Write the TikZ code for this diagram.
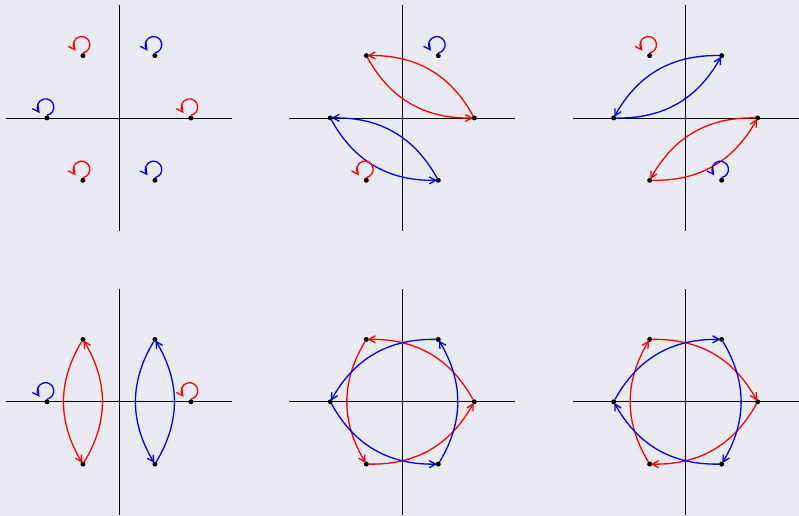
\documentclass[tikz,border=0pt]{standalone}
\usepackage{xcolor}
\usepackage{tikz}
\usetikzlibrary{arrows.meta}
\definecolor{panelbg}{HTML}{EAEAF2}

\begin{document}
\begin{tikzpicture}[
  x=1in, y=1in,
  axis/.style = {black, line width=0.75pt},
  dot/.style  = {circle, fill=black, inner sep=0pt, minimum size=5pt},
  edg/.style  = {line width=1.3pt, shorten >=-1.5pt,
                 -{Straight Barb[length=6.5pt,width=7pt]}},
  redg/.style = {edg, red},
  bedg/.style = {edg, blue},
]

%% ── Background ──────────────────────────────────────────────────────────────
\fill[panelbg] (-1.653,1.639) rectangle (9.444,-5.528);

%% ── Axes and hexagon vertices per panel ─────────────────────────────────────
\foreach \p/\cx/\cy in {a/0/0, b/3.9375/0, c/7.875/0,
                        d/0/-3.944, e/3.9375/-3.944, f/7.875/-3.944}{
  \draw[axis] (\cx-1.57,\cy) -- (\cx+1.57,\cy);
  \draw[axis] (\cx,\cy+1.57) -- (\cx,\cy-1.57);
  \foreach \k in {0,...,5}
    \node[dot] (\p\k) at ({\cx+cos(60*\k)},{\cy+sin(60*\k)}) {};
}

%% ── Panel a: only self-loops ────────────────────────────────────────────────
\draw[redg] (a0.north) arc[start angle=-80, end angle=215, radius=0.115];
\draw[bedg] (a1.north) arc[start angle=-80, end angle=215, radius=0.115];
\draw[redg] (a2.north) arc[start angle=-80, end angle=215, radius=0.115];
\draw[bedg] (a3.north) arc[start angle=-80, end angle=215, radius=0.115];
\draw[redg] (a4.north) arc[start angle=-80, end angle=215, radius=0.115];
\draw[bedg] (a5.north) arc[start angle=-80, end angle=215, radius=0.115];

%% ── Panel b ─────────────────────────────────────────────────────────────────
\draw[redg] (b2) to[bend right=31] (b0);
\draw[redg] (b0) to[bend right=31] (b2);
\draw[bedg] (b3) to[bend right=31] (b5);
\draw[bedg] (b5) to[bend right=31] (b3);
\draw[bedg] (b1.north) arc[start angle=-80, end angle=215, radius=0.115];
\draw[redg] (b4.north) arc[start angle=-80, end angle=215, radius=0.115];

%% ── Panel c ─────────────────────────────────────────────────────────────────
\draw[bedg] (c3) to[bend right=31] (c1);
\draw[bedg] (c1) to[bend right=31] (c3);
\draw[redg] (c0) to[bend right=31] (c4);
\draw[redg] (c4) to[bend right=31] (c0);
\draw[redg] (c2.north) arc[start angle=-80, end angle=215, radius=0.115];
\draw[bedg] (c5.north) arc[start angle=-80, end angle=215, radius=0.115];

%% ── Panel d ─────────────────────────────────────────────────────────────────
\draw[redg] (d2) to[bend right=31] (d4);
\draw[redg] (d4) to[bend right=31] (d2);
\draw[bedg] (d1) to[bend right=31] (d5);
\draw[bedg] (d5) to[bend right=31] (d1);
\draw[bedg] (d3.north) arc[start angle=-80, end angle=215, radius=0.115];
\draw[redg] (d0.north) arc[start angle=-80, end angle=215, radius=0.115];

%% ── Panel e: counter-clockwise cycles ───────────────────────────────────────
\draw[redg] (e0) to[bend right=31] (e2);
\draw[redg] (e2) to[bend right=31] (e4);
\draw[redg] (e4) to[bend right=31] (e0);
\draw[bedg] (e1) to[bend right=31] (e3);
\draw[bedg] (e3) to[bend right=31] (e5);
\draw[bedg] (e5) to[bend right=31] (e1);

%% ── Panel f: clockwise cycles ───────────────────────────────────────────────
\draw[redg] (f4) to[bend left=31] (f2);
\draw[redg] (f2) to[bend left=31] (f0);
\draw[redg] (f0) to[bend left=31] (f4);
\draw[bedg] (f3) to[bend left=31] (f1);
\draw[bedg] (f1) to[bend left=31] (f5);
\draw[bedg] (f5) to[bend left=31] (f3);

\end{tikzpicture}
\end{document}
